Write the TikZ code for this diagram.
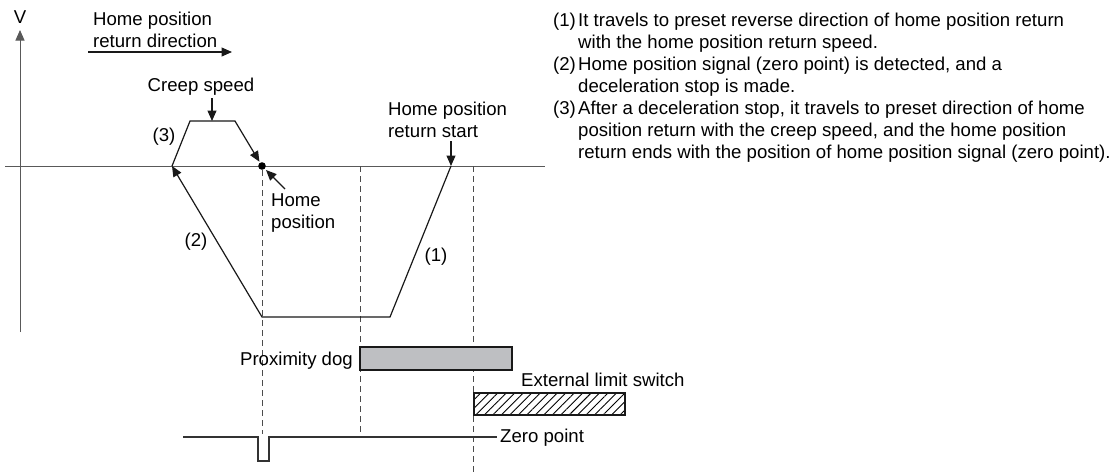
\documentclass[tikz,border=0pt]{standalone}
\usepackage{fontspec}
\setmainfont{Liberation Sans}
\usetikzlibrary{arrows.meta,patterns.meta}
\definecolor{doggray}{RGB}{190,191,194}
\begin{document}
\begin{tikzpicture}[x=1pt,y=-1pt,
  font=\fontsize{18.6}{22}\selectfont,
  axis/.style={draw=black!65, line width=1pt},
  curve/.style={draw=black!90, line width=1.2pt},
  arr/.style={-{Triangle[length=10.5pt,width=9pt]}},
  guide/.style={draw=black!70, dash pattern=on 6pt off 4pt, line width=0.9pt},
  lbl/.style={inner sep=0pt, anchor=base west},
  clbl/.style={inner sep=0pt, anchor=base},
]
\useasboundingbox (0,0) rectangle (1116,475);

% axes
\coordinate (axL) at (5,166);
\coordinate (axR) at (545,166);
\coordinate (vB) at (20,332);
\coordinate (vT) at (20,30);
\draw[axis] (axL) -- (axR);
\draw[axis, -{Triangle[length=10.5pt,width=9pt]}] (vB) -- (vT);
\node[clbl] (V) at (20,23) {V};

% direction
\node[lbl] (dir1) at (93,25) {Home position};
\node[lbl] (dir2) at (93,47) {return direction};
\coordinate (da) at (88,52);
\coordinate (db) at (232,52);
\draw[curve, arr] (da) -- (db);

% guides
\coordinate (g1t) at (262,170);
\coordinate (g1b) at (262,434);
\coordinate (g2t) at (360,166);
\coordinate (g2b) at (360,432);
\coordinate (g3t) at (473,166);
\coordinate (g3b) at (473,475);
\draw[guide] (g1t) -- (g1b);
\draw[guide] (g2t) -- (g2b);
\draw[guide] (g3t) -- (g3b);

% trajectory
\coordinate (A) at (172,166);
\coordinate (B) at (190,121);
\coordinate (C) at (235,121);
\coordinate (D) at (262,166);
\coordinate (E) at (262,317);
\coordinate (F) at (390,317);
\coordinate (G) at (451,166);
\draw[curve, arr, line join=miter] (G) -- (F) -- (E) -- (A);
\draw[curve, arr, shorten >=5pt] (A) -- (B) -- (C) -- (D);
\fill[black] (D) circle (3.8pt);

% labels on trajectory
\node[clbl] (creep) at (201,91) {Creep speed};
\coordinate (ct) at (212,98);
\coordinate (cb) at (212,121);
\draw[curve, arr] (ct) -- (cb);
\node[inner sep=0pt] (l3) at (164,137) {(3)};
\node[inner sep=0pt] (l2) at (196,242) {(2)};
\node[inner sep=0pt] (l1) at (436,257) {(1)};

\node[lbl] (hp1) at (271,206) {Home};
\node[lbl] (hp2) at (271,228) {position};
\coordinate (ht) at (285,189);
\coordinate (hb) at (266,170);
\draw[curve, arr] (ht) -- (hb);

\node[lbl] (st1) at (388,115) {Home position};
\node[lbl] (st2) at (388,137) {return start};
\coordinate (sa) at (451,141);
\draw[curve, arr] (sa) -- (G);

% proximity dog
\draw[fill=doggray, draw=black!90, line width=1.2pt] (360,347) rectangle (512,370);
\node[inner sep=0pt, anchor=base east] (dog) at (353,365) {Proximity dog};

% external limit switch
\draw[pattern={Lines[angle=45, distance=6pt, line width=0.9pt]}, draw=black!90, line width=1.2pt] (474,393) rectangle (625,415);
\node[lbl] (els) at (521,386) {External limit switch};

% zero point signal
\coordinate (z0) at (183,437);
\coordinate (z1) at (258,437);
\coordinate (z2) at (258,461);
\coordinate (z3) at (269,461);
\coordinate (z4) at (269,437);
\coordinate (z5) at (497,437);
\draw[draw=black!80, line width=1.2pt] (z0) -- (z1) -- (z2) -- (z3) -- (z4) -- (z5);
\node[inner sep=0pt, anchor=west] (zp) at (500,438) {Zero point};

% explanation
\node[lbl] (n1) at (553,26) {(1)};
\node[lbl] (t1a) at (578,26) {It travels to preset reverse direction of home position return};
\node[lbl] (t1b) at (578,48) {with the home position return speed.};
\node[lbl] (n2) at (553,70) {(2)};
\node[lbl] (t2a) at (578,70) {Home position signal (zero point) is detected, and a};
\node[lbl] (t2b) at (578,92) {deceleration stop is made.};
\node[lbl] (n3) at (553,114) {(3)};
\node[lbl] (t3a) at (578,114) {After a deceleration stop, it travels to preset direction of home};
\node[lbl] (t3b) at (578,136) {position return with the creep speed, and the home position};
\node[lbl] (t3c) at (578,158) {return ends with the position of home position signal (zero point).};
\end{tikzpicture}
\end{document}
